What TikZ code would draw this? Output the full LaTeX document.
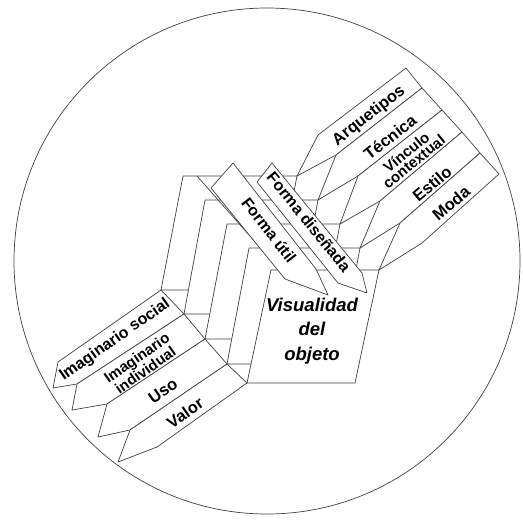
\documentclass[tikz,border=0pt]{standalone}
\usepackage{fontspec}
\setsansfont{Liberation Sans}

\begin{document}
\begin{tikzpicture}[x=1pt,y=-1pt,
    trazo/.style={draw=black!75,line width=0.7pt,line join=round},
    capa/.style={trazo,fill=white},
    etiq/.style={font=\sffamily\bfseries\fontsize{16.5}{16.5}\selectfont,inner sep=0pt},
    etiqdos/.style={font=\sffamily\bfseries\fontsize{15}{12}\selectfont,align=center,inner sep=0pt}]
    \useasboundingbox (0,0) rectangle (523,520);
    \draw[trazo] (267,261) circle (253);

    % capas apiladas, la ultima es la caja del objeto
    \foreach \i/\ax/\ay/\bx/\by/\w in {0/183/176/161/290/114, 1/205/200/184/314/113, 2/227/224/205/339/113, 3/249/248/227/364/111, 4/271/270/247/383/108} {
        \coordinate (tl\i) at (\ax,\ay);
        \coordinate (tr\i) at ({\ax+\w},\ay);
        \coordinate (bl\i) at (\bx,\by);
        \coordinate (br\i) at ({\bx+\w},\by);
        \filldraw[capa] (tl\i) -- (tr\i) -- (br\i) -- (bl\i) -- cycle;
    }
    \node[font=\sffamily\bfseries\itshape\fontsize{18.5}{24.5}\selectfont,align=center] (visual) at (312,331) {Visualidad\\del\\objeto};

    \coordinate (s1) at (197,176);
    \coordinate (s2) at (280,270);
    \draw[trazo] (s1) -- (s2);

    % cintas de la derecha
    \foreach \k/\rx/\ry/\ax/\ay in {0/406/68/318/135, 1/422/88/336/155, 2/442/110/358/176, 3/462/132/380/201, 4/480/153/400/223, 5/499/174/422/243} {
        \coordinate (r\k) at (\rx,\ry);
        \coordinate (a\k) at (\ax,\ay);
    }
    \foreach \k [count=\m] in {0,...,4}
        \filldraw[capa] (r\k) -- (a\k) -- (tr\k) -- (a\m) -- (r\m) -- cycle;

    % cintas de la izquierda
    \foreach \k/\px/\py in {0/58/362, 1/77/384, 2/107/404, 3/130/430, 4/157/447}
        \coordinate (p\k) at (\px,\py);
    \foreach \k/\qx/\qy in {0/53/388, 1/72/410, 2/98/437, 3/118/462}
        \coordinate (q\k) at (\qx,\qy);
    \foreach \k [count=\m] in {0,...,3}
        \filldraw[capa] (bl\k) -- (p\k) -- (q\k) -- (p\m) -- (bl\m) -- cycle;

    % flechas de forma
    \filldraw[capa] (272,163) -- (362,273) -- (367,293) -- (338,283) -- (257,182) -- cycle;
    \filldraw[capa] (233,163) -- (316,269) -- (328,295) -- (285,279) -- (211,188) -- cycle;

    \node[etiq,rotate=38] (arq) at (369,116) {Arquetipos};
    \node[etiq,rotate=38] (tec) at (390,137) {Técnica};
    \node[etiqdos,rotate=39] (vin) at (410,157) {Vínculo\\contextual};
    \node[etiq,rotate=40] (est) at (432,184) {Estilo};
    \node[etiq,rotate=40] (mod) at (451,203) {Moda};
    \node[etiq,rotate=35,font=\sffamily\bfseries\fontsize{16}{16}\selectfont] (isoc) at (115,340) {Imaginario social};
    \node[etiqdos,rotate=35] (iind) at (141,364) {Imaginario\\individual};
    \node[etiq,rotate=35] (uso) at (163,391) {Uso};
    \node[etiq,rotate=35] (valor) at (185,413) {Valor};
    \node[etiq,rotate=-52,font=\sffamily\bfseries\fontsize{16}{16}\selectfont] (futil) at (269,230) {Forma útil};
    \node[etiq,rotate=-51,font=\sffamily\bfseries\fontsize{16}{16}\selectfont] (fdis) at (309,222) {Forma diseñada};
\end{tikzpicture}
\end{document}
